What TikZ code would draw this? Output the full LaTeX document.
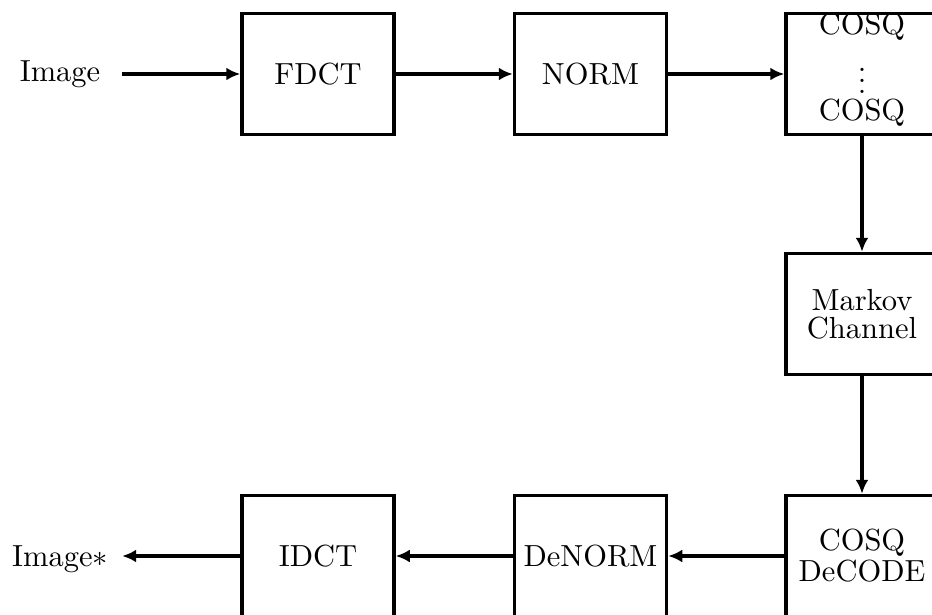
\documentclass[tikz,border=0pt]{standalone}
\usetikzlibrary{arrows.meta}
\newcommand\scaletxt[1]{\scalebox{3.05}{#1}}
\begin{document}
\begin{tikzpicture}[x=1pt,y=-1pt,
  box/.style={draw,line width=3.5pt,minimum width=152pt,minimum height=121pt,inner sep=0pt,align=center},
  lbl/.style={inner sep=0pt},
  conn/.style={line width=3.5pt,-{Latex[length=14pt,width=13pt]}}]
\useasboundingbox (0,0) rectangle (932,615);
\clip (0,0) rectangle (932,615);
% top row
\node[lbl,minimum width=124pt,text height=16pt,text depth=0pt] (img) at (60,74) {\scaletxt{Image}};
\node[box] (fdct) at (318,74) {\scaletxt{FDCT}};
\node[box] (norm) at (590.5,74) {\scaletxt{NORM}};
\node[box] (cosq) at (862,74) {};
\node[lbl,anchor=base] (cq1) at (862,35) {\scaletxt{COSQ}};
\node[lbl,align=center,font=\fontsize{10}{11}\selectfont] (vd) at (862,81) {\scaletxt{.}\\\scaletxt{.}\\\scaletxt{.}};
\node[lbl,anchor=base] (cq2) at (862,121) {\scaletxt{COSQ}};
% right column
\node[box,font=\fontsize{10}{28}\selectfont] (markov) at (862,314) {\scaletxt{Markov}\\\scaletxt{Channel}};
\node[box,font=\fontsize{10}{31}\selectfont] (dec) at (862,556) {\scaletxt{COSQ}\\\scaletxt{DeCODE}};
% bottom row
\node[box] (denorm) at (590.5,556) {\scaletxt{DeNORM}};
\node[box] (idct) at (318,556) {\scaletxt{IDCT}};
\node[lbl,minimum width=124pt,text height=20pt,text depth=0pt] (imgs) at (60,556) {\scaletxt{Image$*$}};
% connectors
\draw[conn] (img) -- (fdct);
\draw[conn] (fdct) -- (norm);
\draw[conn] (norm) -- (cosq);
\draw[conn] (cosq) -- (markov);
\draw[conn] (markov) -- (dec);
\draw[conn] (dec) -- (denorm);
\draw[conn] (denorm) -- (idct);
\draw[conn] (idct) -- (imgs);
\end{tikzpicture}
\end{document}
